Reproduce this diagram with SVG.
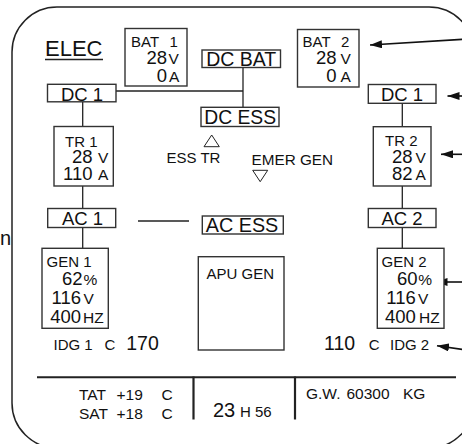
<svg xmlns="http://www.w3.org/2000/svg" width="462" height="444" viewBox="0 0 462 444">
<defs>
<style>
text{font-family:"Liberation Sans",Arial,sans-serif;fill:#111}
.box{fill:#fff;stroke:#333;stroke-width:1.4}
.ln{stroke:#222;stroke-width:1.3;fill:none}
.lbl{font-size:18.5px;text-anchor:middle}
.t{font-size:15px}
.v{font-size:18.5px;text-anchor:end}
.u{font-size:15.5px}
.arr{stroke:#111;stroke-width:1.6;fill:none;marker-end:url(#ah)}
.tri{fill:none;stroke:#222;stroke-width:1}
</style>
<marker id="ah" markerUnits="userSpaceOnUse" markerWidth="13" markerHeight="9" refX="12" refY="4" orient="auto">
<path d="M0,0 L12,4 L0,8 z" fill="#111"/>
</marker>
</defs>
<rect width="462" height="444" fill="#fff"/>
<rect id="frame" x="12" y="7" width="462" height="441" rx="45" fill="none" stroke="#222" stroke-width="1.5"/>
<text x="0" y="245" font-size="20">n</text>
<g id="title">
<text x="45" y="56" font-size="22">ELEC</text>
<line x1="45" y1="59.5" x2="103" y2="59.5" stroke="#222" stroke-width="1.5"/>
</g>
<g id="connectors">
<line class="ln" x1="116" y1="91" x2="243" y2="91"/>
<line class="ln" x1="243" y1="67.5" x2="243" y2="107"/>
<line class="ln" x1="82.7" y1="102" x2="82.7" y2="126"/>
<line class="ln" x1="82.7" y1="186" x2="82.7" y2="208.5"/>
<line class="ln" x1="82.7" y1="227.5" x2="82.7" y2="248"/>
<line class="ln" x1="138" y1="221" x2="189" y2="221"/>
<line class="ln" x1="402.3" y1="103.5" x2="402.3" y2="126"/>
<line class="ln" x1="402.3" y1="186" x2="402.3" y2="208.5"/>
<line class="ln" x1="402.3" y1="227.5" x2="402.3" y2="248"/>
<path class="arr" d="M463,39.3 L370,45"/>
<path class="arr" d="M463,96 L447.5,96"/>
<path class="arr" d="M463,154.3 L441,154.3"/>
<path class="arr" d="M463,282 L435.5,282"/>
<path class="arr" d="M463,349.5 L437,345.8"/>
</g>
<g id="bat1">
<rect class="box" x="125" y="28.5" width="62" height="57.5"/>
<text class="t" y="46.5"><tspan x="131">BAT</tspan><tspan x="169.5">1</tspan></text>
<text class="v" x="167" y="63.5">28</text><text class="u" x="168.5" y="63.5">V</text>
<text class="v" x="167" y="81.5">0</text><text class="u" x="169" y="81.5">A</text>
</g>
<g id="bat2">
<rect class="box" x="297.5" y="29.5" width="61.5" height="57.5"/>
<text class="t" y="46.5"><tspan x="302.5">BAT</tspan><tspan x="341">2</tspan></text>
<text class="v" x="336.5" y="64">28</text><text class="u" x="340.5" y="64">V</text>
<text class="v" x="336.5" y="81.7">0</text><text class="u" x="340.5" y="81.7">A</text>
</g>
<g id="dcbat">
<rect class="box" x="202" y="50" width="78.5" height="17.5"/>
<text class="lbl" x="241.2" y="66" style="font-size:19.5px">DC BAT</text>
</g>
<g id="dcess">
<rect class="box" x="201" y="107.3" width="78" height="19.2"/>
<text class="lbl" x="240.2" y="124" style="font-size:19.3px">DC ESS</text>
</g>
<g id="dc1l">
<rect class="box" x="47.5" y="84.3" width="68.5" height="17.5"/>
<text class="lbl" x="82" y="100.5">DC 1</text>
</g>
<g id="dc1r">
<rect class="box" x="368.3" y="84.5" width="67.7" height="18.8"/>
<text class="lbl" x="402" y="101">DC 1</text>
</g>
<g id="tr1">
<rect class="box" x="54" y="126.5" width="59.3" height="59.5"/>
<text class="t" x="65" y="146.5">TR 1</text>
<text class="v" x="92.5" y="163">28</text><text class="u" x="98" y="163">V</text>
<text class="v" x="92.5" y="180">110</text><text class="u" x="98" y="180">A</text>
</g>
<g id="tr2">
<rect class="box" x="373.3" y="126.7" width="57.7" height="59.3"/>
<text class="t" x="385" y="146">TR 2</text>
<text class="v" x="412.5" y="162.7">28</text><text class="u" x="415.5" y="162.7">V</text>
<text class="v" x="412.5" y="180">82</text><text class="u" x="415.5" y="180">A</text>
</g>
<g id="esstr">
<polygon class="tri" points="204,146.7 211.7,135 219.3,146.7"/>
<text class="t" x="166.5" y="163.3">ESS TR</text>
</g>
<g id="emergen">
<text class="t" x="251.5" y="165" style="font-size:15.3px">EMER GEN</text>
<polygon class="tri" points="252.7,170.3 267.7,170.3 260.2,181.7"/>
</g>
<g id="ac1">
<rect class="box" x="47.7" y="208.5" width="68" height="19"/>
<text class="lbl" x="82.5" y="225">AC 1</text>
</g>
<g id="acess">
<rect class="box" x="202.3" y="216" width="81" height="18"/>
<text class="lbl" x="242" y="231.5" style="font-size:19.8px">AC ESS</text>
</g>
<g id="ac2">
<rect class="box" x="368.3" y="208.5" width="67.7" height="19"/>
<text class="lbl" x="402" y="225">AC 2</text>
</g>
<g id="gen1">
<rect class="box" x="42" y="248.3" width="66.3" height="80"/>
<text class="t" x="46.5" y="266.7">GEN 1</text>
<text class="v" x="82.5" y="285">62</text><text class="u" x="83.5" y="285">%</text>
<text class="v" x="81" y="304">116</text><text class="u" x="83.5" y="304">V</text>
<text class="v" x="81" y="323">400</text><text class="u" x="83" y="323">HZ</text>
</g>
<g id="apugen">
<rect class="box" x="198.3" y="256.7" width="85.7" height="93.3"/>
<text class="t" x="206.5" y="279.3">APU GEN</text>
</g>
<g id="gen2">
<rect class="box" x="377.3" y="248.3" width="66.7" height="80"/>
<text class="t" x="381.5" y="266.7">GEN 2</text>
<text class="v" x="417.5" y="285">60</text><text class="u" x="418.3" y="285">%</text>
<text class="v" x="415.8" y="304">116</text><text class="u" x="418" y="304">V</text>
<text class="v" x="415.8" y="322.7">400</text><text class="u" x="419" y="322.7">HZ</text>
</g>
<g id="idg1">
<text class="t" x="53.5" y="350">IDG 1</text>
<text class="t" x="104.5" y="350">C</text>
<text x="126.2" y="350" font-size="19.5">170</text>
</g>
<g id="idg2">
<text x="324" y="350" font-size="19.5">110</text>
<text class="t" x="368.8" y="350">C</text>
<text class="t" x="390" y="350">IDG 2</text>
</g>
<g id="bottom">
<line x1="37" y1="377.3" x2="456" y2="377.3" stroke="#222" stroke-width="2"/>
<line x1="193.5" y1="376.5" x2="193.5" y2="419.5" stroke="#222" stroke-width="2.2"/>
<line x1="295" y1="376.5" x2="295" y2="419.5" stroke="#222" stroke-width="2.2"/>
<text font-size="15.5" y="400"><tspan x="79">TAT</tspan><tspan x="116.5">+19</tspan><tspan x="161.5">C</tspan></text>
<text font-size="15.5" y="419.3"><tspan x="79">SAT</tspan><tspan x="116.5">+18</tspan><tspan x="161.5">C</tspan></text>
<text x="213" y="416.7" font-size="20">23</text>
<text x="240" y="416.7" font-size="15">H 56</text>
<text font-size="15.5" y="399"><tspan x="306">G.W.</tspan><tspan x="346.5">60300</tspan><tspan x="403">KG</tspan></text>
</g>
</svg>
